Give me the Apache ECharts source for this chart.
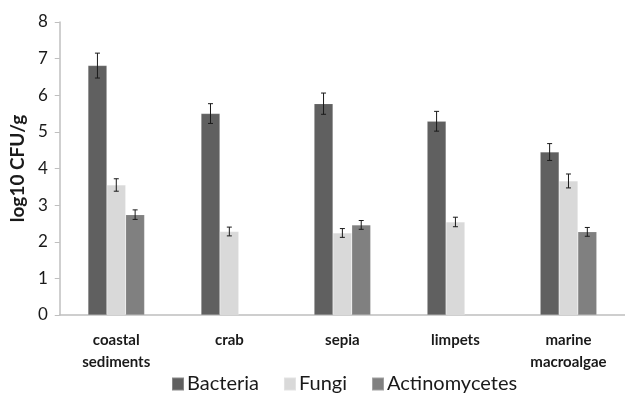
<!DOCTYPE html>
<html><head><meta charset="utf-8">
<script src="https://cdn.jsdelivr.net/npm/echarts@6/dist/echarts.min.js"></script>
<style>html,body{margin:0;padding:0;background:#fff}#c{width:625px;height:393px}</style>
</head><body><div id="c"></div>
<script>
const categories = ['coastal\nsediments', 'crab', 'sepia', 'limpets', 'marine\nmacroalgae'];
const seriesNames = ['Bacteria', 'Fungi', 'Actinomycetes'];
const bacteria = [6.81, 5.50, 5.77, 5.29, 4.45];
const fungi = [3.55, 2.28, 2.24, 2.54, 3.66];
const actinomycetes = [2.74, null, 2.46, null, 2.27];
const bacteriaErr = [0.34, 0.27, 0.29, 0.27, 0.23];
const fungiErr = [0.17, 0.12, 0.12, 0.13, 0.19];
const actinomycetesErr = [0.13, null, 0.12, null, 0.12];
const yTicks = [0, 1, 2, 3, 4, 5, 6, 7, 8];
const colors = ['#606060', '#d9d9d9', '#808080'];

const values = [bacteria, fungi, actinomycetes];
const errs = [bacteriaErr, fungiErr, actinomycetesErr];

const series = [];
values.forEach((vals, i) => {
  series.push({
    name: seriesNames[i], type: 'bar', data: vals,
    barGap: '0%', barCategoryGap: '50%',
    itemStyle: { color: colors[i], borderColor: 'rgba(255,255,255,0.25)', borderWidth: 0.5 },
    z: 2
  });
});
values.forEach((vals, i) => {
  const data = [];
  vals.forEach((v, k) => { if (v != null && errs[i][k] != null) data.push([k, v, errs[i][k]]); });
  series.push({
    type: 'custom', name: seriesNames[i] + ' err', data: data,
    encode: { x: 0, y: 1 }, z: 5, silent: true, legendHoverLink: false,
    renderItem: function (params, api) {
      const k = api.value(0), v = api.value(1), e = api.value(2);
      const band = api.size([1, 0])[0];
      const bw = band * 0.5 / 3;
      const base = api.coord([k, v]);
      const cx = base[0] + (i - 1) * bw;
      const top = api.coord([k, v + e])[1];
      const bot = api.coord([k, v - e])[1];
      const cap = 2.5;
      const st = { stroke: '#1a1a1a', lineWidth: 1 };
      return { type: 'group', children: [
        { type: 'line', shape: { x1: cx, y1: top, x2: cx, y2: bot }, style: st },
        { type: 'line', shape: { x1: cx - cap, y1: top, x2: cx + cap, y2: top }, style: st },
        { type: 'line', shape: { x1: cx - cap, y1: bot, x2: cx + cap, y2: bot }, style: st }
      ]};
    }
  });
});

const chart = echarts.init(document.getElementById('c'), null, { renderer: 'canvas' });
chart.setOption({
  animation: false,
  backgroundColor: '#fff',
  color: colors,
  grid: { left: 57, right: -9, top: 22, bottom: 78, containLabel: false },
  legend: {
    data: seriesNames, left: 166, top: 369,
    icon: 'rect', itemWidth: 12, itemHeight: 13, itemGap: 24,
    textStyle: { fontFamily: 'Lato', fontSize: 20, color: '#1a1a1a', padding: [0, 0, 0, -2] }
  },
  xAxis: {
    type: 'category', data: categories,
    axisLine: { lineStyle: { color: '#bfbfbf', width: 1.5 } },
    axisTick: { show: false },
    axisLabel: { fontFamily: 'Lato', fontWeight: 'bold', fontSize: 15, color: '#1a1a1a', lineHeight: 22, margin: 14, interval: 0 }
  },
  yAxis: {
    type: 'value', min: yTicks[0], max: yTicks[yTicks.length - 1], interval: 1,
    name: 'log10 CFU/g', nameLocation: 'middle', nameGap: 30, nameRotate: 90,
    nameTextStyle: { fontFamily: 'Lato', fontWeight: 'bold', fontSize: 19, color: '#1a1a1a' },
    axisLine: { show: true, lineStyle: { color: '#bfbfbf', width: 1.5 } },
    axisTick: { show: true, length: 5, lineStyle: { color: '#bfbfbf' } },
    splitLine: { show: false },
    axisLabel: { fontFamily: 'Lato', fontSize: 17, color: '#1a1a1a', margin: 12 }
  },
  series: series
});
</script></body></html>
